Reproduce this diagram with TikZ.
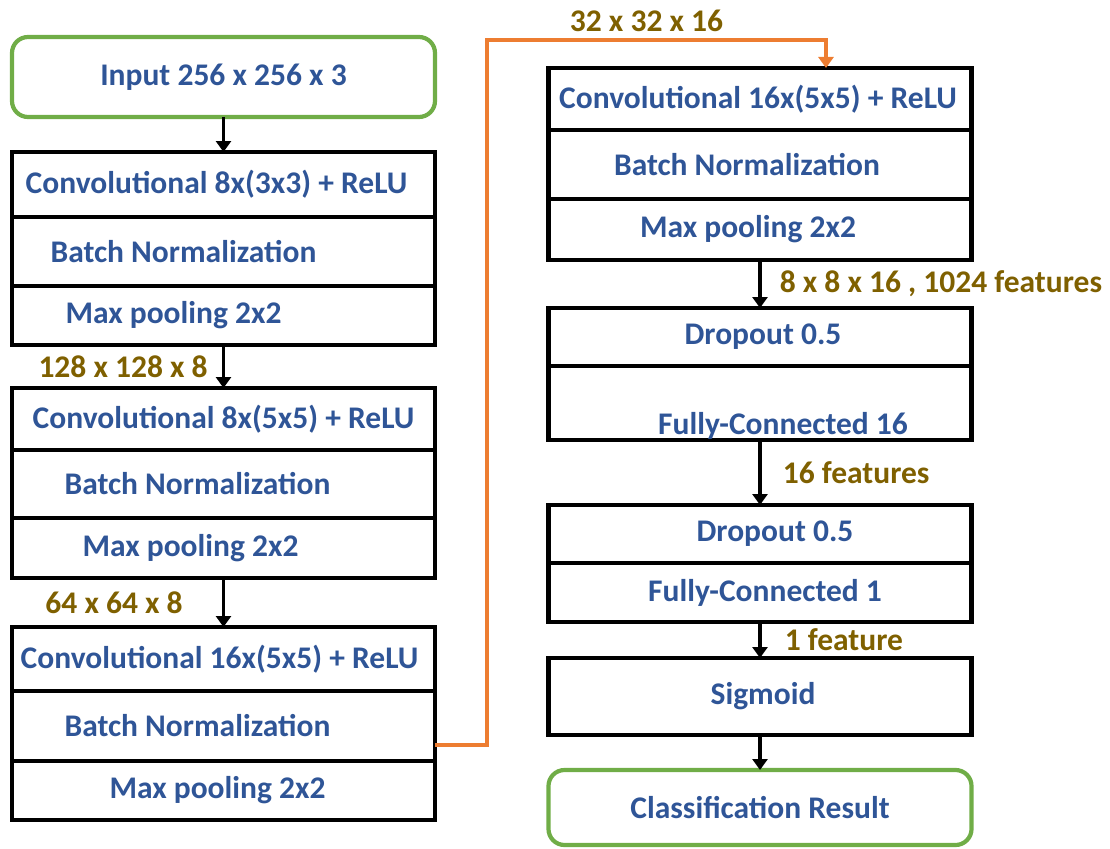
\documentclass[tikz,border=0pt]{standalone}
\usepackage{fontspec}
\setmainfont{Carlito}
\usepackage{tikz}
\usetikzlibrary{arrows.meta, positioning}
\usepackage{xcolor}
\definecolor{txtblue}{RGB}{47,85,151}
\definecolor{dimgold}{RGB}{127,96,0}
\definecolor{iogreen}{RGB}{112,173,71}
\definecolor{feedorange}{RGB}{237,125,49}

\begin{document}
\begin{tikzpicture}[
x=1pt, y=-1pt,
font=\fontsize{31.5}{36}\selectfont\bfseries,
node distance=35pt,
layer/.style={draw,
rectangle,
line width=4.8pt,
minimum width=423pt,
inner sep=0pt,
outer sep=0pt},
io/.style={draw=iogreen,
rectangle,
rounded corners=16pt,
line width=4.2pt,
minimum width=423pt,
minimum height=80pt,
inner sep=0pt,
outer sep=0pt,
text=txtblue},
txt/.style={text=txtblue, inner sep=0pt},
dims/.style={text=dimgold, inner sep=0pt},
arrow/.style={-{Triangle[width=15pt,length=11pt]}, line width=3.6pt},
feed/.style={-{Triangle[width=15pt,length=11pt]}, line width=3.8pt, draw=feedorange}
]
\useasboundingbox (0,0) rectangle (1110,848);

\node[io, anchor=north] (input) at (223.5,37) {Input 256 x 256 x 3};
\node[layer, minimum height=65pt, below=of input, label={[txt,xshift=-7pt]center:Convolutional 8x(3x3) + ReLU}] (c1conv) {};
\node[layer, minimum height=69pt, below=0pt of c1conv, label={[txt,xshift=-40pt]center:Batch Normalization}] (c1bn) {};
\node[layer, minimum height=59pt, below=0pt of c1bn, label={[txt,xshift=-50pt]center:Max pooling 2x2}] (c1pool) {};

\node[layer, minimum height=62pt, below=43pt of c1pool, label={[txt]center:Convolutional 8x(5x5) + ReLU}] (c2conv) {};
\node[layer, minimum height=68pt, below=0pt of c2conv, label={[txt,xshift=-26pt]center:Batch Normalization}] (c2bn) {};
\node[layer, minimum height=60pt, below=0pt of c2bn, label={[txt,xshift=-33pt]center:Max pooling 2x2}] (c2pool) {};

\node[layer, minimum height=64pt, below=49pt of c2pool, label={[txt,xshift=-4pt]center:Convolutional 16x(5x5) + ReLU}] (c3conv) {};
\node[layer, minimum height=70pt, below=0pt of c3conv, label={[txt,xshift=-26pt]center:Batch Normalization}] (c3bn) {};
\node[layer, minimum height=59pt, below=0pt of c3bn, label={[txt,xshift=-6pt]center:Max pooling 2x2}] (c3pool) {};

\node[layer, minimum height=62pt, anchor=north, label={[txt,xshift=-2pt]center:Convolutional 16x(5x5) + ReLU}] (r1conv) at (760,68) {};
\node[layer, minimum height=69pt, below=0pt of r1conv, label={[txt,xshift=-13pt]center:Batch Normalization}] (r1bn) {};
\node[layer, minimum height=61pt, below=0pt of r1bn, label={[txt,xshift=-12pt]center:Max pooling 2x2}] (r1pool) {};

\node[layer, minimum height=58pt, below=48pt of r1pool, label={[txt,xshift=3pt]center:Dropout 0.5}] (d1drop) {};
\node[layer, minimum height=74pt, below=0pt of d1drop, label={[txt,xshift=23pt,yshift=-23pt]center:Fully-Connected 16}] (d1fc) {};

\node[layer, minimum height=58pt, below=65pt of d1fc, label={[txt,xshift=15pt]center:Dropout 0.5}] (d2drop) {};
\node[layer, minimum height=59pt, below=0pt of d2drop, label={[txt,xshift=5pt]center:Fully-Connected 1}] (d2fc) {};

\node[layer, minimum height=77pt, below=36pt of d2fc, label={[txt,xshift=3pt]center:Sigmoid}] (sigm) {};
\node[io, minimum height=75pt, below=of sigm] (result) {Classification Result};

\coordinate (up) at (487,40);
\coordinate (over) at (826,40);

\draw[arrow] (input) -- (c1conv);
\draw[arrow] (c1pool) -- node[dims, left=14pt]{128 x 128 x 8} (c2conv);
\draw[arrow] (c2pool) -- node[dims, left=39pt]{64 x 64 x 8} (c3conv);
\draw[feed] ([yshift=-19pt]c3bn.east) -| (up) -- node[dims, above=6pt, xshift=-10pt]{32 x 32 x 16} (over) -- (over |- r1conv.north);
\draw[arrow] (r1pool) -- node[dims, right=18pt]{8 x 8 x 16 , 1024 features} (d1drop);
\draw[arrow] (d1fc) -- node[dims, right=21pt]{16 features} (d2drop);
\draw[arrow] (d2fc) -- node[dims, right=23pt]{1 feature} (sigm);
\draw[arrow] (sigm) -- (result);

\end{tikzpicture}
\end{document}
